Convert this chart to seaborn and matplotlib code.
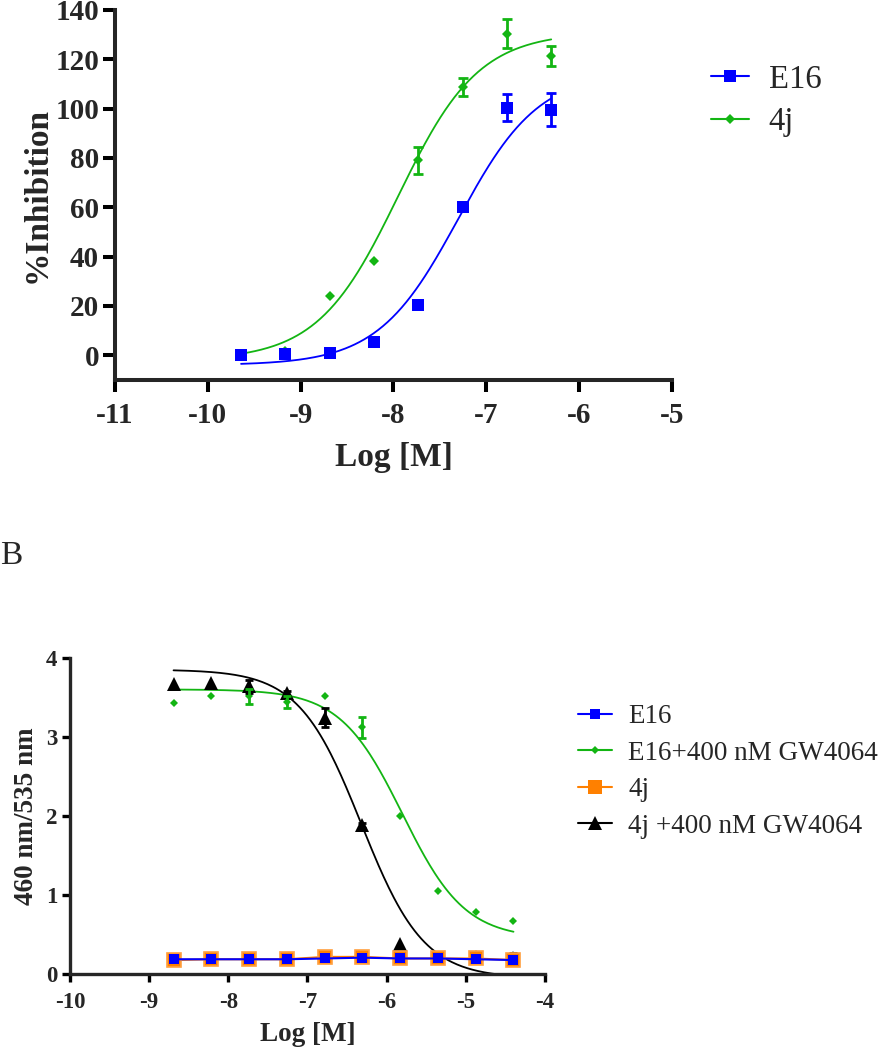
import numpy as np
import pandas as pd
import matplotlib
matplotlib.use("Agg")
import matplotlib.pyplot as plt
from matplotlib.lines import Line2D
import seaborn as sns

sns.set_theme(style="ticks")
plt.rcParams['font.family'] = ['Liberation Serif', 'DejaVu Serif']

BLUE = '#0000FF'
GREEN = '#13B513'
ORANGE = '#FF8000'
BLACK = '#000000'

# ---- panel A: %Inhibition vs log concentration ----
LOG_A = [-9.642, -9.164, -8.687, -8.210, -7.733, -7.255, -6.778, -6.301]
E16_A = [0.0, 0.4, 1.0, 5.4, 20.6, 60.3, 100.4, 99.6]
E16_A_ERR = [0, 0, 0, 0, 0, 0, 5.5, 6.8]
J4_A = [0.5, 1.7, 24.0, 38.3, 79.0, 108.7, 130.4, 121.5]
J4_A_ERR = [0, 0, 0, 0, 5.3, 3.6, 5.9, 4.0]
# 4PL fits: bottom, top, logEC50, hill
E16_A_FIT = (-4.0, 115.0, -7.30, 1.0)
J4_A_FIT = (-2.0, 131.0, -7.95, 1.0)
XTICKS_A = [-11, -10, -9, -8, -7, -6, -5]
YTICKS_A = [0, 20, 40, 60, 80, 100, 120, 140]

# ---- panel B: 460 nm/535 nm ratio ----
LOG_B = [-8.692, -8.215, -7.738, -7.261, -6.784, -6.306, -5.829, -5.352, -4.875, -4.398]
E16_B = [0.19, 0.19, 0.19, 0.19, 0.20, 0.21, 0.20, 0.20, 0.19, 0.18]
E16GW_B = [3.43, 3.51, 3.51, 3.44, 3.51, 3.12, 2.00, 1.05, 0.79, 0.67]
E16GW_B_ERR = [0, 0, 0.09, 0.07, 0, 0.13, 0, 0, 0, 0]
J4_B = [0.18, 0.19, 0.19, 0.19, 0.22, 0.22, 0.20, 0.20, 0.20, 0.18]
J4GW_B = [3.67, 3.68, 3.64, 3.55, 3.24, 1.88, 0.38, 0.20, 0.22, 0.21]
J4GW_B_ERR = [0, 0, 0.08, 0.03, 0.12, 0.03, 0, 0, 0.06, 0.06]
E16GW_B_FIT = (0.45, 3.60, -5.80, -1.1)
J4GW_B_FIT = (-0.05, 3.85, -6.32, -1.1)
XTICKS_B = [-10, -9, -8, -7, -6, -5, -4]
YTICKS_B = [0, 1, 2, 3, 4]


def four_pl(x, params):
    bottom, top, logec50, hill = params
    return bottom + (top - bottom) / (1 + 10 ** ((logec50 - x) * hill))


def fit_frame(logs, params):
    x = np.linspace(min(logs), max(logs), 200)
    return pd.DataFrame({'x': x, 'y': four_pl(x, params)})


def draw_points(ax, x, y, err, color, marker, ms, elw, cap):
    x, y, err = np.array(x), np.array(y), np.array(err)
    ax.plot(x, y, ls='none', marker=marker, ms=ms, color=color, mew=0, zorder=4)
    m = err > 0
    ax.errorbar(x[m], y[m], yerr=err[m], fmt='none', ecolor=color,
                elinewidth=elw, capsize=cap, capthick=elw, zorder=5)


def style_axes(ax, xticks, yticks, lw, tick_len, tick_size, xpad, ypad):
    sns.despine(ax=ax)
    for s in ['left', 'bottom']:
        ax.spines[s].set_linewidth(lw)
    ax.set_xticks(xticks)
    ax.set_xticklabels([str(t) for t in xticks], fontsize=tick_size,
                       fontweight='bold')
    ax.set_yticks(yticks)
    ax.set_yticklabels([str(t) for t in yticks], fontsize=tick_size,
                       fontweight='bold')
    ax.tick_params(width=lw, length=tick_len, direction='out', color='black')
    ax.tick_params(axis='x', pad=xpad)
    ax.tick_params(axis='y', pad=ypad)


W, H = 883, 1050
fig = plt.figure(figsize=(W / 100, H / 100), dpi=100)

# panel A axes (pixel box 115..672 x 10..380)
axA = fig.add_axes([115 / W, 1 - 380 / H, (672 - 115) / W, (380 - 10) / H])
sns.lineplot(data=fit_frame(LOG_A, E16_A_FIT), x='x', y='y', ax=axA,
             color=BLUE, lw=1.3)
sns.lineplot(data=fit_frame(LOG_A, J4_A_FIT), x='x', y='y', ax=axA,
             color=GREEN, lw=1.3)
draw_points(axA, LOG_A, J4_A, J4_A_ERR, GREEN, 'D', 5.6, 2.0, 3.5)
draw_points(axA, LOG_A, E16_A, E16_A_ERR, BLUE, 's', 8.8, 2.0, 3.5)
axA.set_xlim(-11, -5)
axA.set_ylim(-10, 140)
axA.set_xlabel('Log [M]', fontsize=24, fontweight='bold', labelpad=10)
axA.set_ylabel('%Inhibition', fontsize=24, fontweight='bold', labelpad=2)
style_axes(axA, XTICKS_A, YTICKS_A, 2.9, 8.5, 21, 7, 3)

handlesA = [
    Line2D([], [], color=BLUE, lw=1.5, marker='s', ms=9, mew=0),
    Line2D([], [], color=GREEN, lw=1.5, marker='D', ms=5, mew=0),
]
fig.legend(handlesA, ['E16', '4j'], loc='upper left',
           bbox_to_anchor=(711 / W, 1 - 64 / H), frameon=False,
           fontsize=23.5, handlelength=1.17, handletextpad=0.6,
           labelspacing=0.38, borderpad=0, borderaxespad=0)

# panel B axes (pixel box 70..545 x 657..974)
axB = fig.add_axes([70 / W, 1 - 974.3 / H, (545 - 70) / W, (974.3 - 657.7) / H])
sns.lineplot(data=fit_frame(LOG_B, J4GW_B_FIT), x='x', y='y', ax=axB,
             color=BLACK, lw=1.3)
sns.lineplot(data=fit_frame(LOG_B, E16GW_B_FIT), x='x', y='y', ax=axB,
             color=GREEN, lw=1.3)
draw_points(axB, LOG_B, J4GW_B, J4GW_B_ERR, BLACK, '^', 10, 2.0, 3.0)
draw_points(axB, LOG_B, E16GW_B, E16GW_B_ERR, GREEN, 'D', 4.4, 2.0, 3.0)
# flat controls sit on top of the black triangles, as in the original
sns.lineplot(x=LOG_B, y=J4_B, ax=axB, color=ORANGE, lw=1.5, marker='s',
             ms=10, mew=1.2, mec='#FFA040', zorder=6)
sns.lineplot(x=LOG_B, y=E16_B, ax=axB, color=BLUE, lw=1.5, marker='s',
             ms=7, mew=0, zorder=6)
axB.set_xlim(-10, -4)
axB.set_ylim(0, 4)
axB.set_xlabel('Log [M]', fontsize=19.5, fontweight='bold', labelpad=6)
axB.set_ylabel('460 nm/535 nm', fontsize=19.5, fontweight='bold', labelpad=5)
style_axes(axB, XTICKS_B, YTICKS_B, 2.4, 6, 16.5, 7, 3)

handlesB = [
    Line2D([], [], color=BLUE, lw=1.5, marker='s', ms=7, mew=0),
    Line2D([], [], color=GREEN, lw=1.5, marker='D', ms=4.4, mew=0),
    Line2D([], [], color=ORANGE, lw=1.5, marker='s', ms=10, mew=0),
    Line2D([], [], color=BLACK, lw=1.5, marker='^', ms=10, mew=0),
]
fig.legend(handlesB, ['E16', 'E16+400 nM GW4064', '4j', '4j +400 nM GW4064'],
           loc='upper left', bbox_to_anchor=(578 / W, 1 - 704 / H),
           frameon=False, fontsize=19.5, handlelength=1.25,
           handletextpad=0.6, labelspacing=0.43, borderpad=0, borderaxespad=0)

fig.text(0.0, 1 - 556 / H, 'B', fontsize=24, va='center', ha='left')

fig.savefig('out.png', dpi=100)
